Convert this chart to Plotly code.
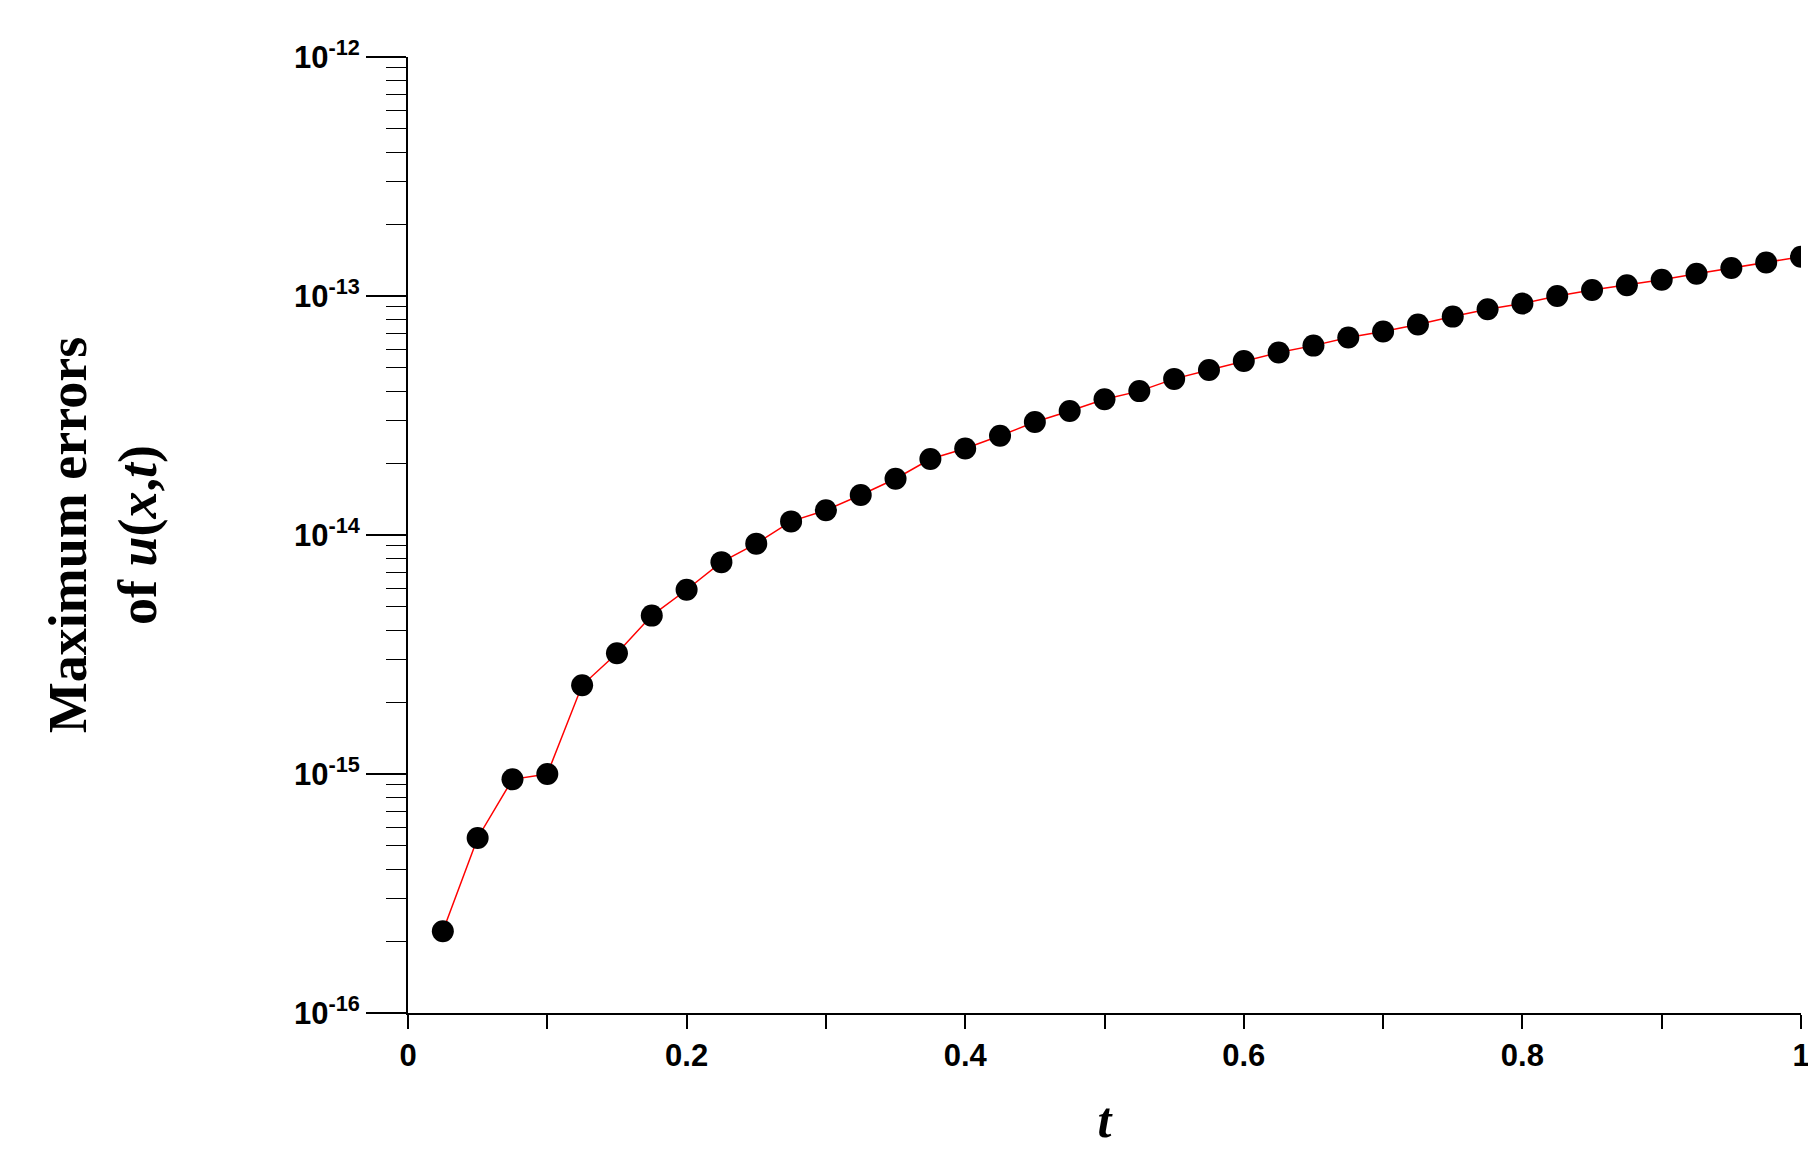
import plotly.graph_objects as go

t = [round(0.025 * (i + 1), 3) for i in range(40)]
err = [2.2e-16, 5.4e-16, 9.5e-16, 1.0e-15, 2.35e-15, 3.2e-15, 4.6e-15, 5.9e-15, 7.7e-15, 9.2e-15,
       1.14e-14, 1.27e-14, 1.47e-14, 1.72e-14, 2.08e-14, 2.3e-14, 2.6e-14, 2.97e-14, 3.3e-14, 3.7e-14,
       4.0e-14, 4.5e-14, 4.9e-14, 5.35e-14, 5.8e-14, 6.2e-14, 6.7e-14, 7.1e-14, 7.6e-14, 8.2e-14,
       8.8e-14, 9.3e-14, 1.0e-13, 1.06e-13, 1.11e-13, 1.17e-13, 1.24e-13, 1.31e-13, 1.38e-13, 1.46e-13]
x_ticks = [0, 0.2, 0.4, 0.6, 0.8, 1]
x_labels = ["<b>0</b>", "<b>0.2</b>", "<b>0.4</b>", "<b>0.6</b>", "<b>0.8</b>", "<b>1</b>"]
y_ticks = [1e-16, 1e-15, 1e-14, 1e-13, 1e-12]
y_labels = ["<b>10<sup>-16</sup></b>", "<b>10<sup>-15</sup></b>", "<b>10<sup>-14</sup></b>",
            "<b>10<sup>-13</sup></b>", "<b>10<sup>-12</sup></b>"]
minor_y = [m * 10.0 ** e for e in range(-16, -12) for m in range(2, 10)]

fig = go.Figure(go.Scatter(
    x=t, y=err, mode="lines+markers",
    line=dict(color="red", width=1.5),
    marker=dict(color="black", size=22),
))
tickfont = dict(family="Liberation Sans, Arial", size=31, color="black")
fig.update_layout(
    width=1816, height=1163, plot_bgcolor="white", paper_bgcolor="white",
    margin=dict(l=400, r=23, t=49, b=158), showlegend=False,
    xaxis=dict(range=[0, 1], tickvals=x_ticks, ticktext=x_labels, showgrid=False, zeroline=False,
               showline=True, linecolor="black", linewidth=2, ticks="outside", ticklen=14,
               tickcolor="black", tickwidth=2, tickfont=tickfont,
               minor=dict(tickvals=[0.1, 0.3, 0.5, 0.7, 0.9], ticks="outside", ticklen=14,
                          tickcolor="black", tickwidth=2),
               title=dict(text="<b><i>t</i></b>", font=dict(family="Liberation Serif, Times New Roman", size=50, color="black"), standoff=30)),
    yaxis=dict(type="log", range=[-16, -12], tickvals=y_ticks, ticktext=y_labels, showgrid=False,
               zeroline=False, showline=True, linecolor="black", linewidth=2, ticks="outside",
               ticklen=40, tickcolor="black", tickwidth=2, tickfont=tickfont,
               minor=dict(tickvals=minor_y, ticks="outside", ticklen=20, tickcolor="black", tickwidth=1),
               title=dict(text="<b>Maximum errors<br>of <i>u</i>(<i>x</i>,<i>t</i>)</b>",
                          font=dict(family="Liberation Serif, Times New Roman", size=54, color="black"), standoff=120)),
)
fig.write_html("out.html")
